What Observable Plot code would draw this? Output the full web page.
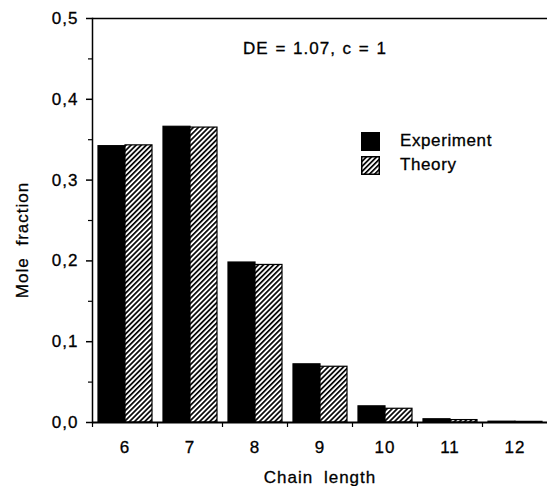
<!DOCTYPE html>
<html>
<head>
<meta charset="utf-8">
<script src="https://cdn.jsdelivr.net/npm/d3@7"></script>
<script src="https://cdn.jsdelivr.net/npm/@observablehq/plot@0.6"></script>
<style>
  html, body { margin: 0; padding: 0; background: #fff; }
  #chart { position: relative; width: 547px; height: 486px; font-family: "Liberation Sans", Arial, sans-serif; color: #000; }
  #chart svg text { letter-spacing: 1px; stroke: #000; stroke-width: 0.3px; }
  .lbl { position: absolute; font-size: 17px; letter-spacing: 1px; white-space: nowrap; line-height: 1; -webkit-text-stroke: 0.3px #000; }
  #title { left: 315px; top: 48px; transform: translate(-50%, -50%); word-spacing: 1px; }
  #xlabel { left: 320px; top: 477px; transform: translate(-50%, -50%); word-spacing: 5px; }
  #ylabel { left: 22px; top: 240px; transform: translate(-50%, -50%) rotate(-90deg); word-spacing: 6px; }
  #legend { position: absolute; left: 361px; top: 129px; }
  .item { display: flex; align-items: center; height: 24px; }
  .item svg { margin-right: 20px; }
  .item span { font-size: 17px; letter-spacing: 0.6px; -webkit-text-stroke: 0.3px #000; }
</style>
</head>
<body>
<svg width="0" height="0" style="position:absolute">
  <defs>
    <pattern id="hatch" patternUnits="userSpaceOnUse" width="3.6" height="3.6" patternTransform="rotate(45)">
      <rect width="3.6" height="3.6" fill="#fff"></rect>
      <line x1="0" y1="0" x2="0" y2="3.6" stroke="#000" stroke-width="3.4"></line>
    </pattern>
  </defs>
</svg>
<div id="chart"></div>
<script>
// Mole fraction by chain length, measured vs. predicted
const chainLengths = [6, 7, 8, 9, 10, 11, 12];
const experiment = [0.342, 0.366, 0.198, 0.072, 0.020, 0.004, 0.001];
const theory = [0.343, 0.365, 0.195, 0.069, 0.017, 0.003, 0.0008];
const seriesNames = ["Experiment", "Theory"];
const seriesFills = ["#000", "url(#hatch)"];
const majorTicks = [0, 0.1, 0.2, 0.3, 0.4, 0.5];
const minorTicks = [0.05, 0.15, 0.25, 0.35, 0.45];
const titleText = "DE = 1.07, c = 1";
const xLabel = "Chain length";
const yLabel = "Mole fraction";

const rows = chainLengths.flatMap((n, i) => [
  {chain: n, series: seriesNames[0], value: experiment[i]},
  {chain: n, series: seriesNames[1], value: theory[i]}
]);

const W = 547, H = 486, ML = 92, MR = 0, MT = 18, MB = 64;
const halfBand = (W - ML - MR) / chainLengths.length / 2;
const comma = d => d.toFixed(1).replace(".", ",");

const chart = Plot.plot({
  width: W,
  height: H,
  marginLeft: ML,
  marginRight: MR,
  marginTop: MT,
  marginBottom: MB,
  style: {fontFamily: "'Liberation Sans', Arial, sans-serif", fontSize: "17px", color: "#000", background: "#fff"},
  fx: {domain: chainLengths, padding: 0, label: null},
  x: {domain: seriesNames, paddingInner: 0, paddingOuter: 0.2, axis: null},
  y: {domain: [0, 0.5], axis: null},
  marks: [
    Plot.barY(rows.filter(d => d.series === seriesNames[0]), {
      fx: "chain", x: "series", y: "value", fill: seriesFills[0], stroke: "#000", strokeWidth: 1.2
    }),
    Plot.barY(rows.filter(d => d.series === seriesNames[1]), {
      fx: "chain", x: "series", y: "value", fill: seriesFills[1], stroke: "#000", strokeWidth: 1.2
    }),
    Plot.ruleY([0.5], {stroke: "#000", strokeWidth: 1.5}),
    Plot.ruleY([0], {stroke: "#000", strokeWidth: 2}),
    Plot.frame({anchor: "left", facetAnchor: "left", stroke: "#000", strokeWidth: 1.5}),
    Plot.axisY({ticks: majorTicks, tickFormat: comma, tickSize: 6, tickPadding: 8, label: null, strokeWidth: 1.5}),
    Plot.axisY({ticks: minorTicks, tickFormat: () => "", tickSize: 4, label: null, strokeWidth: 1.2}),
    Plot.axisFx({anchor: "bottom", tickSize: 0, tickPadding: 18, label: null}),
    Plot.axisFx({anchor: "bottom", tickSize: 5, tickFormat: () => "", dx: -halfBand, label: null, strokeWidth: 1.2})
  ]
});

const root = document.getElementById("chart");
root.appendChild(chart);

function addLabel(id, text) {
  const el = document.createElement("div");
  el.className = "lbl";
  el.id = id;
  el.textContent = text;
  root.appendChild(el);
}
addLabel("title", titleText);
addLabel("xlabel", xLabel);
addLabel("ylabel", yLabel);

// legend swatches built from the series list
const legend = document.createElement("div");
legend.id = "legend";
seriesNames.forEach((name, i) => {
  const item = document.createElement("div");
  item.className = "item";
  const sw = document.createElementNS("http://www.w3.org/2000/svg", "svg");
  sw.setAttribute("width", 19);
  sw.setAttribute("height", 19);
  const r = document.createElementNS("http://www.w3.org/2000/svg", "rect");
  r.setAttribute("x", 0.75); r.setAttribute("y", 0.75);
  r.setAttribute("width", 17.5); r.setAttribute("height", 17.5);
  r.setAttribute("fill", seriesFills[i]);
  r.setAttribute("stroke", "#000");
  r.setAttribute("stroke-width", 1.5);
  sw.appendChild(r);
  const t = document.createElement("span");
  t.textContent = name;
  item.appendChild(sw);
  item.appendChild(t);
  legend.appendChild(item);
});
root.appendChild(legend);
</script>
</body>
</html>
